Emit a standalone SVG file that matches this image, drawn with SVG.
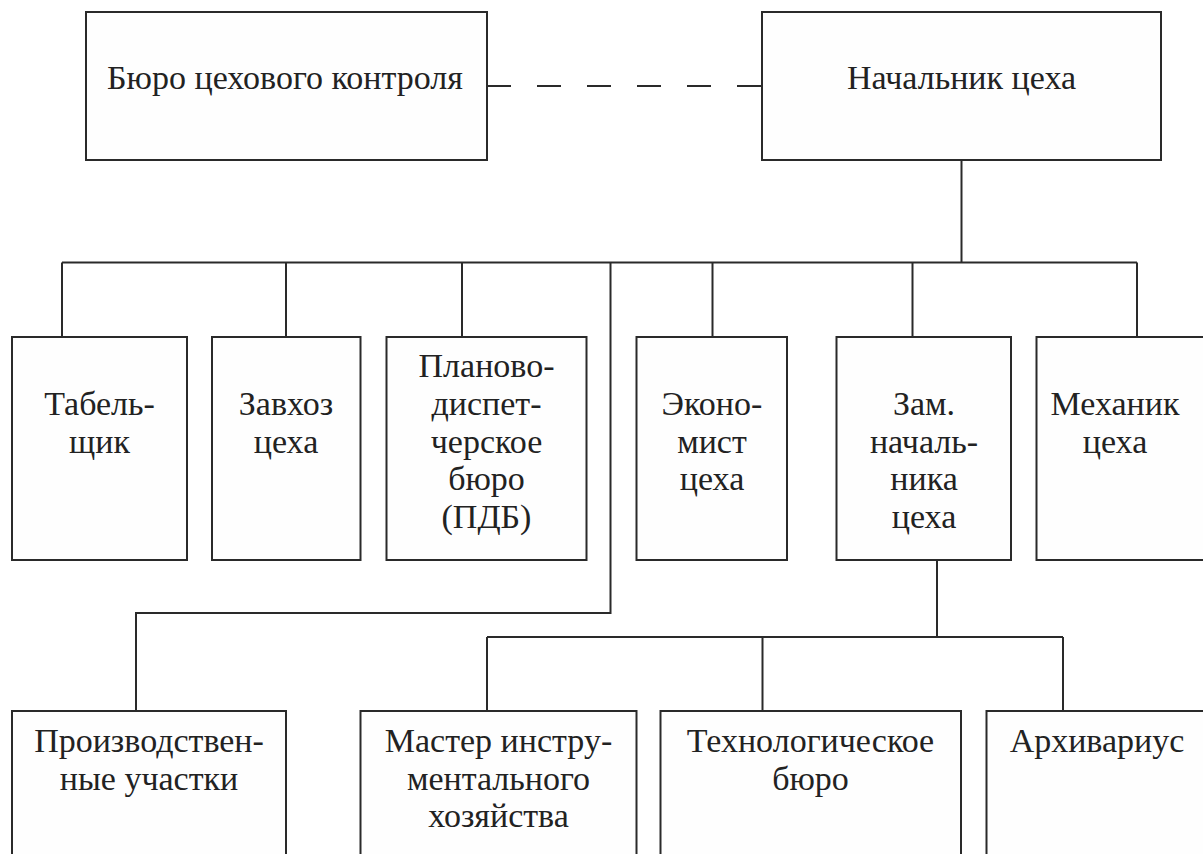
<svg xmlns="http://www.w3.org/2000/svg" width="1203" height="854" viewBox="0 0 1203 854">
<style>
.box{fill:#fefefe;stroke:#2a2a2a;stroke-width:2}
.t{font-family:"Liberation Serif","Times New Roman",serif;font-size:34px;fill:#222;text-anchor:middle}
.c{fill:none;stroke:#2a2a2a;stroke-width:2}
.d{fill:none;stroke:#2a2a2a;stroke-width:2;stroke-dasharray:24 26}
</style>
<rect width="1203" height="854" fill="#ffffff"/>
<g id="connectors">
<path class="d" d="M487 86H762"/>
<path class="c" d="M961.5 160V262.5" stroke="#555"/>
<path class="c" d="M62 262.5H1137"/>
<path class="c" d="M62 262.5V337M286 262.5V337M462 262.5V337M712.5 262.5V337M912.5 262.5V337M1137 262.5V337"/>
<path class="c" d="M610.5 262.5V613H136V711"/>
<path class="c" d="M937 560V637M487 637H1063M487 637V711M762.5 637V711M1063 637V711"/>
</g>
<g id="n_buro"><rect class="box" x="86" y="12" width="401" height="148"/><text class="t" x="285" y="89">Бюро цехового контроля</text></g>
<g id="n_nach"><rect class="box" x="762" y="12" width="399" height="148"/><text class="t" x="961.5" y="89">Начальник цеха</text></g>
<g id="n_tab"><rect class="box" x="12" y="337" width="175" height="223"/><text class="t" x="99.5" y="415">Табель-</text><text class="t" x="99.5" y="453">щик</text></g>
<g id="n_zav"><rect class="box" x="212" y="337" width="148.5" height="223"/><text class="t" x="286" y="415">Завхоз</text><text class="t" x="286" y="453">цеха</text></g>
<g id="n_pdb"><rect class="box" x="386.5" y="337" width="200" height="223"/><text class="t" x="486.5" y="377">Планово-</text><text class="t" x="486.5" y="415">диспет-</text><text class="t" x="486.5" y="453">черское</text><text class="t" x="486.5" y="490">бюро</text><text class="t" x="486.5" y="528">(ПДБ)</text></g>
<g id="n_eko"><rect class="box" x="636.5" y="337" width="150.5" height="223"/><text class="t" x="712" y="415">Эконо-</text><text class="t" x="712" y="453">мист</text><text class="t" x="712" y="490">цеха</text></g>
<g id="n_zam"><rect class="box" x="836.5" y="337" width="174.5" height="223"/><text class="t" x="924" y="415">Зам.</text><text class="t" x="924" y="453">началь-</text><text class="t" x="924" y="490">ника</text><text class="t" x="924" y="528">цеха</text></g>
<g id="n_mex"><rect class="box" x="1036.5" y="337" width="180" height="223"/><text class="t" x="1115" y="415">Механик</text><text class="t" x="1115" y="453">цеха</text></g>
<g id="n_proizv"><rect class="box" x="12" y="711" width="274" height="160"/><text class="t" x="149" y="752">Производствен-</text><text class="t" x="149" y="790">ные участки</text></g>
<g id="n_master"><rect class="box" x="360.5" y="711" width="276" height="160"/><text class="t" x="498.5" y="752">Мастер инстру-</text><text class="t" x="498.5" y="790">ментального</text><text class="t" x="498.5" y="827">хозяйства</text></g>
<g id="n_tech"><rect class="box" x="660.5" y="711" width="300.5" height="160"/><text class="t" x="810.5" y="752">Технологическое</text><text class="t" x="810.5" y="790">бюро</text></g>
<g id="n_arch"><rect class="box" x="986.5" y="711" width="230" height="160"/><text class="t" x="1097" y="752">Архивариус</text></g>
</svg>
